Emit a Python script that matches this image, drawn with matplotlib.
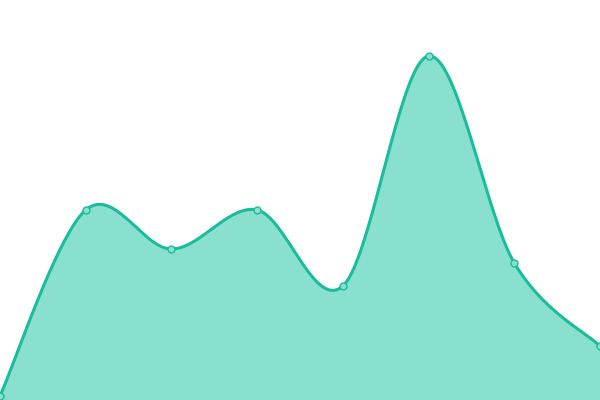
import numpy as np
import matplotlib
matplotlib.use("Agg")
import matplotlib.pyplot as plt

x_idx = [0, 1, 2, 3, 4, 5, 6, 7]
values = [4, 190, 151, 190, 114, 344, 137, 54]


def smooth_curve(xs, ys, k=1 / 6, n=40):
    xs = np.asarray(xs, float)
    ys = np.asarray(ys, float)
    px, py = [], []
    m = len(xs)
    for i in range(m - 1):
        i0 = max(i - 1, 0)
        i3 = min(i + 2, m - 1)
        c1x = xs[i] + (xs[i + 1] - xs[i0]) * k
        c1y = ys[i] + (ys[i + 1] - ys[i0]) * k
        c2x = xs[i + 1] - (xs[i3] - xs[i]) * k
        c2y = ys[i + 1] - (ys[i3] - ys[i]) * k
        t = np.linspace(0, 1, n)
        a = (1 - t) ** 3
        b = 3 * (1 - t) ** 2 * t
        c = 3 * (1 - t) * t ** 2
        d = t ** 3
        px.extend(a * xs[i] + b * c1x + c * c2x + d * xs[i + 1])
        py.extend(a * ys[i] + b * c1y + c * c2y + d * ys[i + 1])
    return np.array(px), np.array(py)


fig = plt.figure(figsize=(6, 4), dpi=100)
ax = fig.add_axes([0, 0, 1, 1])

cx, cy = smooth_curve(x_idx, values)
ax.fill_between(cx, cy, 0, color="#8ae0cf", lw=0)
ax.plot(cx, cy, color="#1abc9c", lw=2.2, solid_capstyle="round")
ax.plot(x_idx, values, "o", ms=5, mfc="#8ae0cf", mec="#1abc9c", mew=1,
        clip_on=False)

ax.set_xlim(0, 7)
ax.set_ylim(0, 400)
ax.set_axis_off()

fig.savefig("out.png", dpi=100)
